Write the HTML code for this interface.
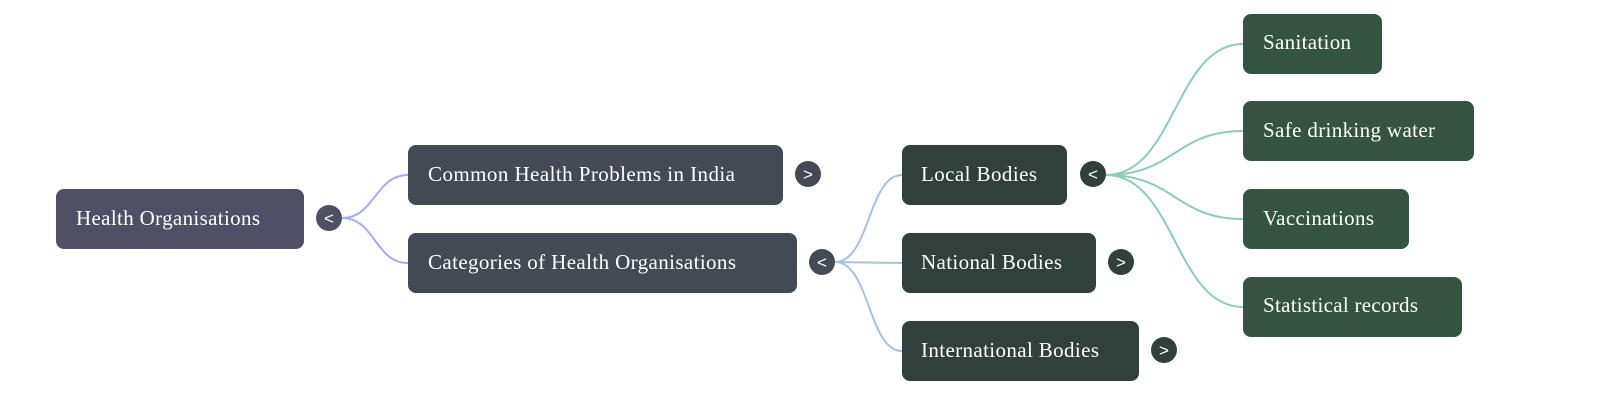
<!DOCTYPE html>
<html><head><meta charset="utf-8"><style>
html,body{margin:0;padding:0;background:#fff;width:1600px;height:403px;overflow:hidden}
svg{display:block}
text{font-family:"Liberation Serif",serif;font-size:21px;fill:#fff}
.t{font-family:"Liberation Sans",sans-serif;font-size:17px;fill:#fff;text-anchor:middle}
</style></head><body>
<svg width="1600" height="403" viewBox="0 0 1600 403">
<g fill="none" stroke-width="2">
<path d="M342 218 C375 218,375 175,408 175" stroke="#a3acf2"/>
<path d="M342 218 C375 218,375 263,408 263" stroke="#a3acf2"/>
<path d="M835 262 C870 262,868 175,902 175" stroke="#a9c2e2"/>
<path d="M835 262 L902 263" stroke="#a9c2e2"/>
<path d="M835 262 C870 262,868 351,902 351" stroke="#a9c2e2"/>
<path d="M1106 175 C1175 175,1175 44,1243 44" stroke="#8ccdb5"/>
<path d="M1106 175 C1175 175,1175 131,1243 131" stroke="#8ccdb5"/>
<path d="M1106 175 C1175 175,1175 219,1243 219" stroke="#8ccdb5"/>
<path d="M1106 175 C1175 175,1175 307,1243 307" stroke="#8ccdb5"/>
</g>
<rect x="56" y="189" width="248" height="60" rx="8" fill="#4f5066"/>
<text x="76" y="225" textLength="184">Health Organisations</text>
<circle cx="329" cy="218" r="13" fill="#4f5066"/><text class="t" x="329" y="224">&lt;</text>

<rect x="408" y="145" width="375" height="60" rx="8" fill="#434a53"/>
<text x="428" y="181" textLength="307">Common Health Problems in India</text>
<circle cx="808" cy="174" r="13" fill="#434a53"/><text class="t" x="808" y="180">&gt;</text>

<rect x="408" y="233" width="389" height="60" rx="8" fill="#434a53"/>
<text x="428" y="269" textLength="308">Categories of Health Organisations</text>
<circle cx="822" cy="262" r="13" fill="#434a53"/><text class="t" x="822" y="268">&lt;</text>

<rect x="902" y="145" width="165" height="60" rx="8" fill="#31403b"/>
<text x="921" y="181" textLength="116">Local Bodies</text>
<circle cx="1093" cy="174" r="13" fill="#31403b"/><text class="t" x="1093" y="180">&lt;</text>

<rect x="902" y="233" width="194" height="60" rx="8" fill="#31403b"/>
<text x="921" y="269" textLength="141">National Bodies</text>
<circle cx="1121" cy="262" r="13" fill="#31403b"/><text class="t" x="1121" y="268">&gt;</text>

<rect x="902" y="321" width="237" height="60" rx="8" fill="#31403b"/>
<text x="921" y="357" textLength="178">International Bodies</text>
<circle cx="1164" cy="350" r="13" fill="#31403b"/><text class="t" x="1164" y="356">&gt;</text>

<rect x="1243" y="14" width="139" height="60" rx="8" fill="#35543f"/>
<text x="1263" y="49" textLength="88">Sanitation</text>
<rect x="1243" y="101" width="231" height="60" rx="8" fill="#35543f"/>
<text x="1263" y="137" textLength="172">Safe drinking water</text>
<rect x="1243" y="189" width="166" height="60" rx="8" fill="#35543f"/>
<text x="1263" y="225" textLength="111">Vaccinations</text>
<rect x="1243" y="277" width="219" height="60" rx="8" fill="#35543f"/>
<text x="1263" y="312" textLength="155">Statistical records</text>
</svg>
</body></html>
